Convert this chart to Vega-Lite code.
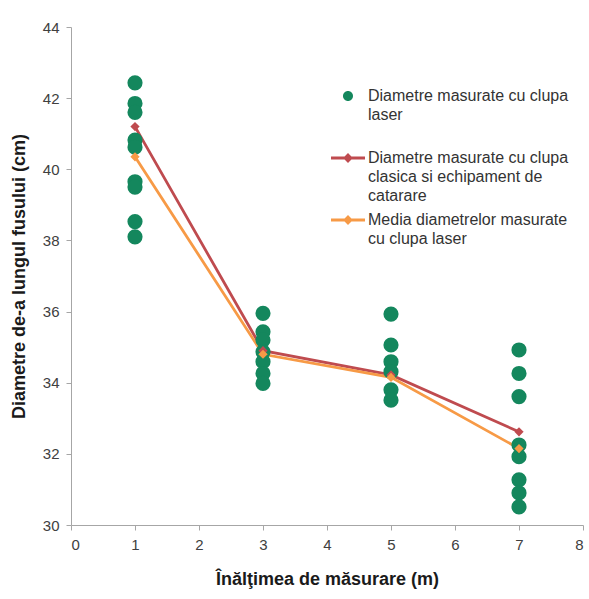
{
  "$schema": "https://vega.github.io/schema/vega-lite/v6.json",
  "width": 512,
  "height": 498,
  "autosize": "none",
  "padding": {"left": 71, "top": 27, "right": 6, "bottom": 74},
  "background": "white",
  "config": {
    "view": {"stroke": null},
    "font": "Liberation Sans",
    "style": {"guide-label": {"lineHeight": 19}},
    "axis": {"grid": false, "domainColor": "#a6a6a6", "tickColor": "#a6a6a6", "tickSize": 5, "labelColor": "#404040", "labelFontSize": 15, "titleColor": "#1a1a1a", "titleFontSize": 18, "titleFontWeight": "bold", "labelFont": "Liberation Sans", "titleFont": "Liberation Sans"}
  },
  "data": {"values": [
    {"series": "A", "x": 1, "y": 42.43}, {"series": "A", "x": 1, "y": 41.85}, {"series": "A", "x": 1, "y": 41.6}, {"series": "A", "x": 1, "y": 40.82}, {"series": "A", "x": 1, "y": 40.62}, {"series": "A", "x": 1, "y": 39.65}, {"series": "A", "x": 1, "y": 39.5}, {"series": "A", "x": 1, "y": 38.53}, {"series": "A", "x": 1, "y": 38.1},
    {"series": "A", "x": 3, "y": 35.95}, {"series": "A", "x": 3, "y": 35.43}, {"series": "A", "x": 3, "y": 35.2}, {"series": "A", "x": 3, "y": 34.87}, {"series": "A", "x": 3, "y": 34.59}, {"series": "A", "x": 3, "y": 34.26}, {"series": "A", "x": 3, "y": 33.98},
    {"series": "A", "x": 5, "y": 35.93}, {"series": "A", "x": 5, "y": 35.06}, {"series": "A", "x": 5, "y": 34.59}, {"series": "A", "x": 5, "y": 34.31}, {"series": "A", "x": 5, "y": 33.8}, {"series": "A", "x": 5, "y": 33.51},
    {"series": "A", "x": 7, "y": 34.92}, {"series": "A", "x": 7, "y": 34.26}, {"series": "A", "x": 7, "y": 33.61}, {"series": "A", "x": 7, "y": 32.25}, {"series": "A", "x": 7, "y": 31.92}, {"series": "A", "x": 7, "y": 31.27}, {"series": "A", "x": 7, "y": 30.9}, {"series": "A", "x": 7, "y": 30.51},
    {"series": "B", "x": 1, "y": 41.2}, {"series": "B", "x": 3, "y": 34.9}, {"series": "B", "x": 5, "y": 34.22}, {"series": "B", "x": 7, "y": 32.62},
    {"series": "C", "x": 1, "y": 40.35}, {"series": "C", "x": 3, "y": 34.8}, {"series": "C", "x": 5, "y": 34.15}, {"series": "C", "x": 7, "y": 32.15}
  ]},
  "encoding": {
    "x": {"field": "x", "type": "quantitative", "scale": {"domain": [0, 8], "nice": false}, "axis": {"values": [0,1,2,3,4,5,6,7,8], "title": "Înălţimea de măsurare (m)", "titlePadding": 18, "labelPadding": 7}},
    "y": {"field": "y", "type": "quantitative", "scale": {"domain": [30, 44], "nice": false, "zero": false}, "axis": {"values": [30,32,34,36,38,40,42,44], "title": "Diametre de-a lungul fusului (cm)", "titlePadding": 14, "labelPadding": 7}},
    "color": {"field": "series", "type": "nominal", "scale": {"domain": ["A", "B", "C"], "range": ["#14875d", "#bf4b4f", "#f79a46"]},
      "legend": {"title": null, "orient": "none", "legendX": 269, "legendY": 53, "symbolSize": 80, "symbolStrokeWidth": 0, "symbolOpacity": 1, "labelFontSize": 16, "labelColor": "#333333", "labelLimit": 400, "rowPadding": -2, "labelOffset": 12, "labelBaseline": "top",
        "labelExpr": "datum.value == 'A' ? ['Diametre masurate cu clupa', 'laser', ''] : datum.value == 'B' ? ['Diametre masurate cu clupa', 'clasica si echipament de', 'catarare'] : ['Media diametrelor masurate', 'cu clupa laser']"}}
  },
  "layer": [
    {"transform": [{"filter": "datum.series != 'A'"}], "mark": {"type": "line", "strokeWidth": 2.8}, "encoding": {"detail": {"field": "series"}}},
    {"mark": {"type": "point", "filled": true, "opacity": 1, "size": 0.001},
      "encoding": {"shape": {"field": "series", "type": "nominal", "scale": {"domain": ["A", "B", "C"], "range": ["M-1.12,1.79A1.12,1.12,0,1,0,1.12,1.79A1.12,1.12,0,1,0,-1.12,1.79Z", "M-3.8,1.45L3.8,1.45L3.8,2.13L-3.8,2.13Z M0,0.69L1.1,1.79L0,2.89L-1.1,1.79Z", "M-3.8,1.45L3.8,1.45L3.8,2.13L-3.8,2.13Z M0,0.69L1.1,1.79L0,2.89L-1.1,1.79Z"]}}}},
    {"transform": [{"filter": "datum.series == 'A'"}], "mark": {"type": "circle", "opacity": 1, "size": 230}},
    {"transform": [{"filter": "datum.series != 'A'"}], "mark": {"type": "point", "filled": true, "opacity": 1, "size": 85, "shape": "diamond"}}
  ]
}
